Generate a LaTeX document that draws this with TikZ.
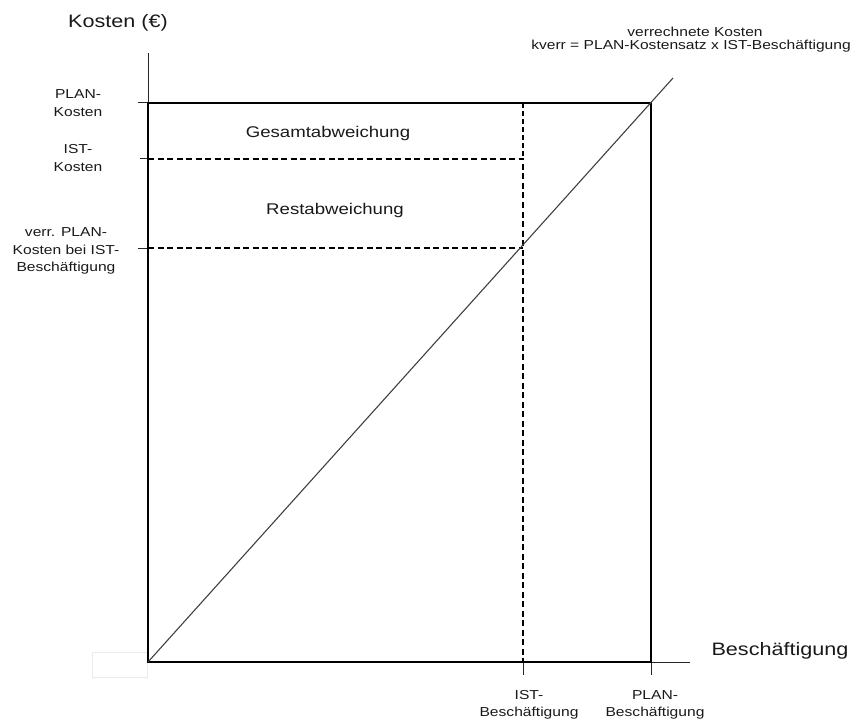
\documentclass[tikz,border=0pt]{standalone}
\usepackage{fontspec}
\setmainfont{Liberation Sans}[FakeStretch=1.2]
\begin{document}
\begin{tikzpicture}[x=1pt,y=-1pt,
  thinline/.style={line width=1pt,black!85},
  thickline/.style={line width=2.8pt,black},
  thickdash/.style={line width=2.5pt,black,dash pattern=on 6pt off 3.5pt},
  thindash/.style={line width=1.1pt,black,dash pattern=on 5pt off 3pt},
  small/.style={font=\fontsize{13}{17.5}\selectfont,align=center,inner sep=0pt,text=black!90},
  medium/.style={font=\fontsize{15.5}{18}\selectfont,inner sep=0pt,text=black!90},
  large/.style={font=\fontsize{18}{21}\selectfont,inner sep=0pt,text=black!90}]
\useasboundingbox (0,0) rectangle (856,722);

% key points of the cost diagram
\coordinate (O) at (148,662);
\coordinate (ytop) at (148,53);
\coordinate (xend) at (690,662);
\coordinate (PK) at (148,103);
\coordinate (IK) at (148,159);
\coordinate (VK) at (148,248);
\coordinate (IB) at (523,662);
\coordinate (PB) at (651,662);
\coordinate (C) at (651,103);
\coordinate (IBtop) at (523,103);
\coordinate (IBist) at (523,159);
\coordinate (IBv) at (523,248);
\coordinate (dend) at (673,78);
\coordinate (tPK) at (138,103);
\coordinate (tIK) at (140,159);
\coordinate (tVK) at (138,248);
\coordinate (tIB) at (523,675);
\coordinate (tPB) at (651,675);

% faint box left of the origin
\draw[black!8,line width=0.8pt] (92,652) rectangle (147,677);

% axes
\draw[thinline] (O) -- (ytop);
\draw[thinline] (O) -- (xend);
\draw[thinline] (tPK) -- (PK);
\draw[thinline] (tIK) -- (IK);
\draw[thinline] (tVK) -- (VK);
\draw[thinline] (IB) -- (tIB);
\draw[thinline] (PB) -- (tPB);

% dashed levels
\draw[thindash] (IBtop) -- (IBist);
\draw[thickdash] (IK) -- (IBist) -- (IB);
\draw[thickdash] (VK) -- (IBv);

% plan cost frame
\draw[thickline,line join=miter] (O) -- (PK) -- (C) -- (PB) -- cycle;

% charged costs line
\draw[line width=1.1pt,black!75] (O) -- (dend);

% labels
\node[large] (ky) at (118,23) {Kosten (€)};
\node[large] (kx) at (780,651) {Beschäftigung};
\node[small] (kv1) at (695,32) {verrechnete Kosten};
\node[small] (kv2) at (691,46) {kverr = PLAN-Kostensatz x IST-Beschäftigung};
\node[small] (lPK) at (78,103) {PLAN-\\Kosten};
\node[small] (lIK) at (78,158) {IST-\\Kosten};
\node[small] (lVK) at (66,251) {verr. PLAN-\\Kosten bei IST-\\Beschäftigung};
\node[medium] (ga) at (328,133) {Gesamtabweichung};
\node[medium] (ra) at (335,210) {Restabweichung};
\node[small] (lIB) at (529,705) {IST-\\Beschäftigung};
\node[small] (lPB) at (655,705) {PLAN-\\Beschäftigung};
\end{tikzpicture}
\end{document}
